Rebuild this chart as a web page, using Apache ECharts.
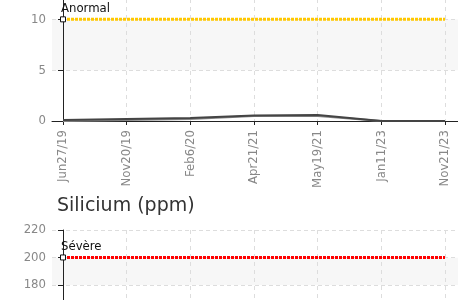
<!DOCTYPE html>
<html>
  <head>
    <meta charset="UTF-8">
    <script src="https://cdn.jsdelivr.net/npm/echarts@6/dist/echarts.min.js"></script>
    <title>Analyse</title>
  </head>
  <body style="margin:0">
    <div id="main" style="width: 458px;height:300px;"></div>
    <script type="text/javascript">
      // sample dates (x axis)
      var dates = ['Jun27/19', 'Nov20/19', 'Feb6/20', 'Apr21/21', 'May19/21', 'Jan11/23', 'Nov21/23'];
      var dateIdx = [0, 1, 2, 3, 4, 5, 6];

      // top chart values
      var valuesA = [0.1, 0.2, 0.3, 0.55, 0.6, 0, 0];
      var valuesB = [0, 0.1, 0.2, 0.5, 0.5, 0, 0];
      var anormal = [10, 10, 10, 10, 10, 10, 10];

      // silicium limit
      var silicium = 'Silicium (ppm)';
      var severe = [200, 200, 200, 200, 200, 200, 200];

      var labelFont = '"DejaVu Sans Condensed", sans-serif';

      function pairs(vals) {
        return vals.map(function (v, i) { return [dateIdx[i], v]; });
      }

      function limitData(vals, name) {
        var d = pairs(vals);
        d[0] = {
          value: d[0],
          symbol: 'rect',
          symbolSize: 5,
          itemStyle: { color: '#fff', borderColor: '#111', borderWidth: 1 },
          label: {
            show: true, formatter: name, position: [1, -14],
            color: '#111', fontSize: 13, fontFamily: labelFont
          }
        };
        return d;
      }

      function xAxisFor(gridIndex, showLabels) {
        return {
          type: 'value', gridIndex: gridIndex,
          min: -0.173, max: 6.204,
          axisLine: { lineStyle: { color: '#222' } },
          axisTick: { customValues: dateIdx, length: 4, lineStyle: { color: '#222' } },
          axisLabel: {
            show: showLabels, customValues: dateIdx, rotate: 90, margin: 9,
            color: '#888', fontSize: 13, fontFamily: labelFont,
            formatter: function (v) { return dates[v]; }
          },
          splitLine: { show: true, lineStyle: { color: '#ddd', type: [4, 4] } }
        };
      }

      function yAxisFor(gridIndex, max, interval) {
        return {
          type: 'value', gridIndex: gridIndex,
          min: 0, max: max, interval: interval,
          axisLine: { show: true, lineStyle: { color: '#222' } },
          axisTick: { show: true, length: 5, lineStyle: { color: '#222' } },
          axisLabel: { showMaxLabel: max % interval === 0, color: '#888', fontSize: 13, fontFamily: labelFont, margin: 6 },
          splitLine: { show: true, lineStyle: { color: '#ddd', type: [4, 3] } },
          splitArea: { show: true, areaStyle: { color: ['#ffffff', '#f7f7f7'] } }
        };
      }

      var myChart = echarts.init(document.getElementById('main'));

      var option = {
        animation: false,
        title: {
          text: silicium, left: 52, top: 192,
          textStyle: { color: '#333', fontSize: 19, fontWeight: 'normal', fontFamily: 'DejaVu Sans' }
        },
        grid: [
          { left: 52, right: 0, top: -1, height: 122, outerBoundsMode: 'none' },
          { left: 52, right: 0, top: 230, height: 302, outerBoundsMode: 'none' }
        ],
        xAxis: [xAxisFor(0, true), xAxisFor(1, false)],
        yAxis: [yAxisFor(0, 12, 5), yAxisFor(1, 220, 20)],
        series: [
          {
            type: 'line', xAxisIndex: 0, yAxisIndex: 0, symbol: 'none',
            lineStyle: { color: '#888', width: 2 },
            data: pairs(valuesB)
          },
          {
            type: 'line', xAxisIndex: 0, yAxisIndex: 0, symbol: 'none',
            lineStyle: { color: '#444', width: 2 },
            data: pairs(valuesA)
          },
          {
            type: 'line', xAxisIndex: 0, yAxisIndex: 0, symbol: 'none',
            lineStyle: { color: '#ffc800', width: 3, type: [3, 1] },
            data: limitData(anormal, 'Anormal'), z: 5
          },
          {
            type: 'line', xAxisIndex: 1, yAxisIndex: 1, symbol: 'none',
            lineStyle: { color: '#ff0000', width: 3, type: [3, 1] },
            data: limitData(severe, 'Sévère'), z: 5
          }
        ]
      };

      myChart.setOption(option);
    </script>
  </body>
</html>
